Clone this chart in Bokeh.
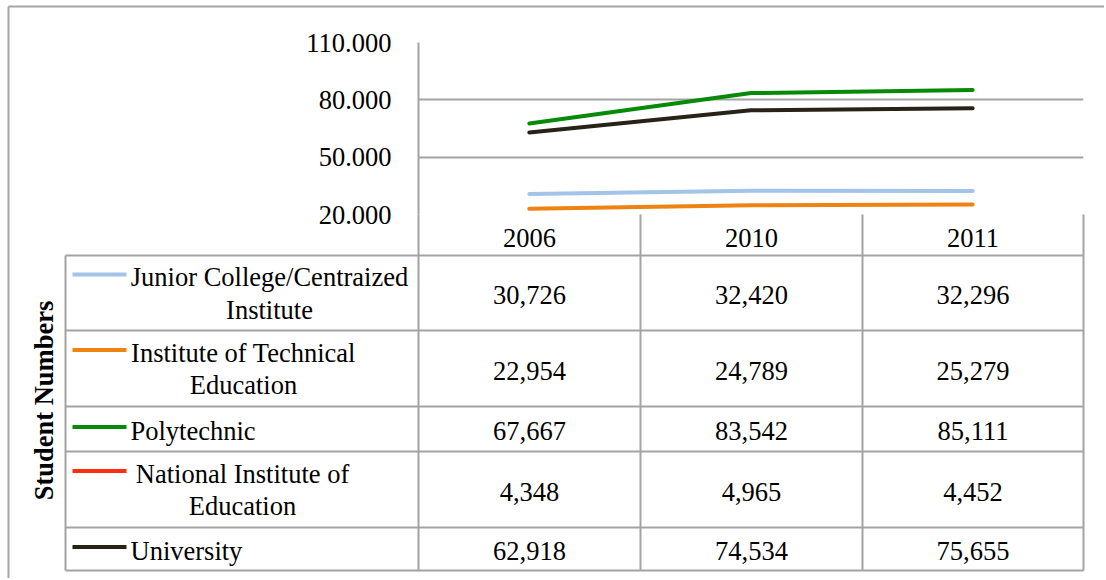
from math import pi
from bokeh.plotting import figure
from bokeh.models import Range1d, FixedTicker, CustomJSTickFormatter
from bokeh.embed import file_html
from bokeh.resources import INLINE
from bokeh.core.properties import value

# ---------------- data ----------------
years = ["2006", "2010", "2011"]
series_names = [
    "Junior College/Centraized\nInstitute",
    "Institute of Technical\nEducation",
    "Polytechnic",
    "National Institute of\nEducation",
    "University",
]
junior = [30726, 32420, 32296]
ite = [22954, 24789, 25279]
poly = [67667, 83542, 85111]
nie = [4348, 4965, 4452]
univ = [62918, 74534, 75655]
colors = ["#A3C4E9", "#EE8311", "#078A07", "#FF2D0C", "#272319"]
y_ticks = [20000, 50000, 80000, 110000]
y_title = "Student Numbers"

series = [junior, ite, poly, nie, univ]
# category slots: each year occupies one unit, point in the middle of its slot
x_pos = [i + 0.5 for i in range(len(years))]

# ---------------- style / layout (page pixel positions) ----------------
FONT = value("Liberation Serif")
FS = value("26.5px")
GRID = "#A3A3A3"
W, H = 1104, 578
FL, FR, FT, FB = 418, 1083, 42, 214   # plot-area (frame) edges

p = figure(width=W, height=H, x_range=Range1d(0, len(years)),
           y_range=Range1d(20000, 110000), output_backend="svg",
           toolbar_location=None, min_border_left=FL, min_border_right=W - FR,
           min_border_top=FT, min_border_bottom=H - FB)
p.xaxis.visible = False
p.xgrid.visible = False
p.outline_line_color = None
p.background_fill_color = None
p.border_fill_color = "white"

# page-pixel coordinate system for the data table / frame decorations
p.extra_x_ranges = {"px": Range1d(FL, FR)}
p.extra_y_ranges = {"py": Range1d(FB, FT)}

ya = p.yaxis[0]
ya.ticker = FixedTicker(ticks=y_ticks)
ya.formatter = CustomJSTickFormatter(
    code=r"return tick.toString().replace(/\B(?=(\d{3})+(?!\d))/g, '.');")
ya.major_tick_line_color = None
ya.minor_tick_line_color = None
ya.axis_line_color = GRID
ya.axis_line_width = 2
ya.major_label_text_font = "Liberation Serif"
ya.major_label_text_font_size = "26.5px"
ya.major_label_text_color = "black"
ya.major_label_standoff = 21

p.ygrid.ticker = FixedTicker(ticks=y_ticks[:3])
p.ygrid.grid_line_color = GRID
p.ygrid.grid_line_width = 2

for s, c in zip(series, colors):
    p.line(x=x_pos, y=s, line_color=c, line_width=4, line_cap="round")

PX = dict(x_range_name="px", y_range_name="py", level="overlay")

# outer chart border (left and top visible)
p.segment(x0=[8, 8], y0=[6, 6], x1=[8, 1110], y1=[600, 6],
          line_color="#A6A6A6", line_width=2, **PX)

# ---------- data table ----------
col_edges = [FL, 640, 862, FR]
leg_left = 65
header_top, header_bottom = FB, 255
row_bottoms = [330, 406, 451, 527, 570]
row_tops = [header_bottom] + row_bottoms[:-1]

hx0, hx1, hy = [], [], []
for yv in [header_bottom] + row_bottoms:
    hx0.append(leg_left); hx1.append(col_edges[-1]); hy.append(yv)
p.segment(x0=hx0, y0=hy, x1=hx1, y1=hy, line_color=GRID, line_width=2, **PX)
vx = [leg_left] + col_edges
vy0 = [header_bottom] + [header_top] * len(col_edges)
vy1 = [row_bottoms[-1]] * len(vx)
p.segment(x0=vx, y0=vy0, x1=vx, y1=vy1, line_color=GRID, line_width=2, **PX)

col_centers = [(col_edges[i] + col_edges[i + 1]) / 2 for i in range(len(years))]

p.text(x=col_centers, y=[237] * len(years), text=years, text_align="center",
       text_baseline="middle", text_font=FONT, text_font_size=FS,
       text_color="black", **PX)

vx_, vy_, vt_ = [], [], []
for r, s in enumerate(series):
    cy = (row_tops[r] + row_bottoms[r]) / 2 + 2
    for j, v in enumerate(s):
        vx_.append(col_centers[j]); vy_.append(cy); vt_.append(f"{v:,}")
p.text(x=vx_, y=vy_, text=vt_, text_align="center", text_baseline="middle",
       text_font=FONT, text_font_size=FS, text_color="black", **PX)

block_centers = [269, 243, None, 242, None]
for r, (name, c) in enumerate(zip(series_names, colors)):
    cy = (row_tops[r] + row_bottoms[r]) / 2
    two = "\n" in name
    ky = cy - 18.5 if two else cy - 2
    p.segment(x0=[72], y0=[ky], x1=[126], y1=[ky], line_color=c, line_width=4, **PX)
    if two:
        p.text(x=[block_centers[r]], y=[cy + 0.5], text=[name], text_align="center",
               text_baseline="middle", text_line_height=1.09,
               text_font=FONT, text_font_size=FS, text_color="black", **PX)
    else:
        p.text(x=[130], y=[cy + 2], text=[name], text_align="left",
               text_baseline="middle",
               text_font=FONT, text_font_size=FS, text_color="black", **PX)

p.text(x=[43], y=[400], text=[y_title], angle=pi / 2, text_align="center",
       text_baseline="middle", text_font=FONT, text_font_size=FS,
       text_font_style="bold", text_color="black", **PX)

open("out.html", "w").write(file_html(p, INLINE))
